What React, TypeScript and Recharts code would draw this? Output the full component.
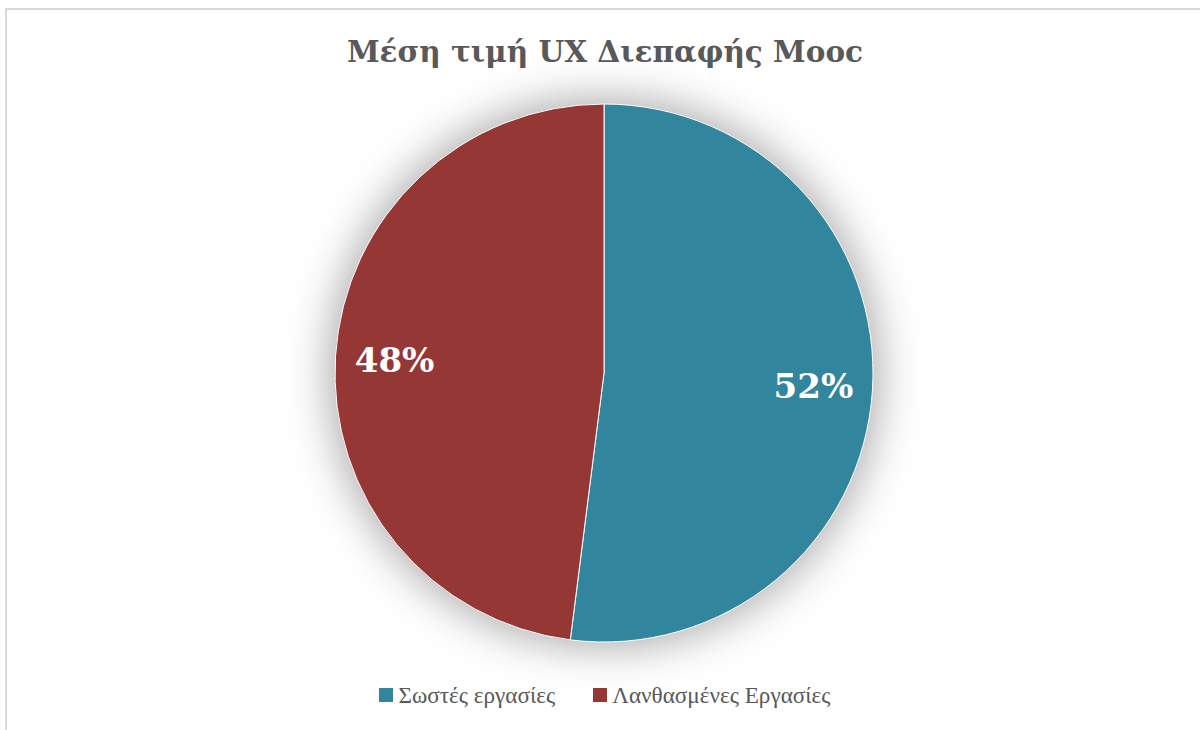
import React from "react";
import { PieChart, Pie, Cell, Legend } from "recharts";

const categories = ["Σωστές εργασίες", "Λανθασμένες Εργασίες"];
const values = [52, 48];
const colors = ["#31859C", "#953735"];
const title = "Μέση τιμή UX Διεπαφής Mooc";

const data = categories.map((name, i) => ({ name, value: values[i] }));

const RAD = Math.PI / 180;

const renderLabel = (props: any) => {
  const { cx, cy, midAngle, outerRadius, percent } = props;
  const r = outerRadius * 0.78;
  const x = cx + r * Math.cos(-midAngle * RAD);
  const y = cy + r * Math.sin(-midAngle * RAD);
  return (
    <text
      x={x}
      y={y}
      fill="#ffffff"
      textAnchor="middle"
      dominantBaseline="central"
      fontFamily="'DejaVu Serif', serif"
      fontWeight="bold"
      fontSize={34}
    >
      {`${Math.round(percent * 100)}%`}
    </text>
  );
};

const renderLegend = (props: any) => {
  const payload = [...(props.payload || [])]
    .filter((a: any) => categories.indexOf(a.value) >= 0 && a.color !== "#808080")
    .sort((a: any, b: any) => categories.indexOf(a.value) - categories.indexOf(b.value));
  const seen = new Set<string>();
  const items = payload.filter((p: any) => {
    if (seen.has(p.value)) return false;
    seen.add(p.value);
    return true;
  });
  return (
    <div style={{ display: "flex", justifyContent: "center", alignItems: "center" }}>
      {items.map((entry: any, i: number) => (
        <div
          key={i}
          style={{ display: "flex", alignItems: "center", marginRight: i === 0 ? 38 : 0 }}
        >
          <span
            style={{
              display: "inline-block",
              width: 14,
              height: 14,
              background: colors[categories.indexOf(entry.value)],
              marginRight: 5,
            }}
          />
          <span
            style={{
              fontFamily: "'Liberation Serif', serif",
              fontSize: 23.2,
              color: "#595959",
              lineHeight: "26px",
            }}
          >
            {entry.value}
          </span>
        </div>
      ))}
    </div>
  );
};

export default function App() {
  return (
    <div style={{ position: "absolute", left: 0, top: 0, width: 1200, height: 730, overflow: "hidden", background: "#fff" }}>
      <style>{`.pie-shadow { filter: drop-shadow(0px 0px 24px rgba(0,0,0,0.22)); }`}</style>
      <div
        style={{
          position: "absolute",
          left: 5,
          top: 8,
          width: 1210,
          height: 740,
          border: "2px solid #d9d9d9",
          boxSizing: "border-box",
        }}
      />
      <div
        style={{
          position: "absolute",
          left: 0,
          top: 28,
          width: 1210,
          textAlign: "center",
          fontFamily: "'DejaVu Serif', serif",
          fontWeight: "bold",
          fontSize: 29.5,
          color: "#595959",
          lineHeight: "48px",
        }}
      >
        {title}
      </div>
      <div style={{ position: "absolute", left: 0, top: 0 }}>
        <PieChart width={1200} height={730} margin={{ top: 0, right: 0, bottom: 0, left: 0 }}>
          <Pie
            className="pie-shadow"
            data={data}
            dataKey="value"
            nameKey="name"
            cx={604}
            cy={373}
            outerRadius={268}
            startAngle={90}
            endAngle={-270}
            fill="#808080"
            stroke="none"
            legendType="none"
            label={false}
            labelLine={false}
            isAnimationActive={false}
          />
          <Pie
            data={data}
            dataKey="value"
            nameKey="name"
            cx={604}
            cy={373}
            outerRadius={269}
            startAngle={90}
            endAngle={-270}
            stroke="#ffffff"
            strokeWidth={1}
            label={renderLabel}
            labelLine={false}
            isAnimationActive={false}
          >
            {data.map((d, i) => (
              <Cell key={d.name} fill={colors[i]} />
            ))}
          </Pie>
          <Legend
            content={renderLegend}
            wrapperStyle={{ position: "absolute", top: 682, left: 0, width: 1210 }}
          />
        </PieChart>
      </div>
    </div>
  );
}
